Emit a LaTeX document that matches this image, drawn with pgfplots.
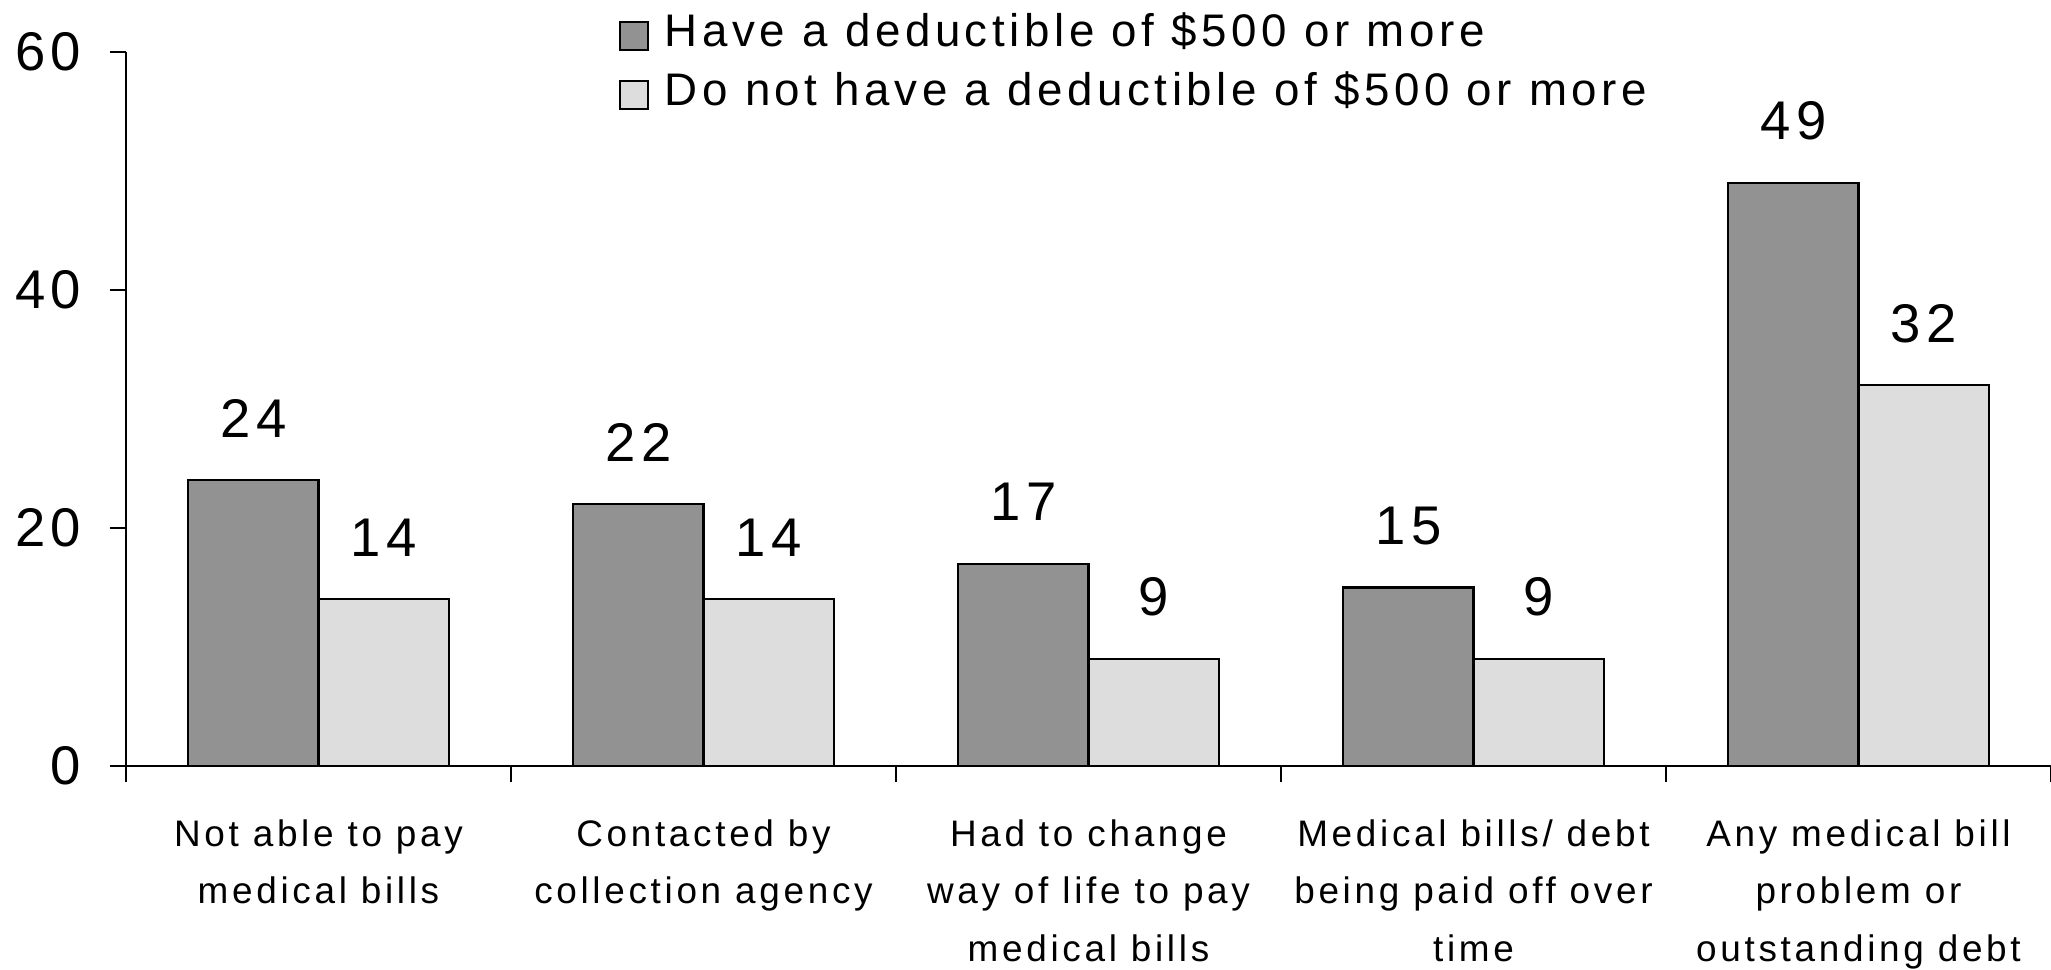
\documentclass[border=0pt]{standalone}
\usepackage{pgfplots}
\pgfplotsset{compat=1.18}
\usepackage{fontspec}
\setmainfont{Liberation Sans}[LetterSpace=10]
\definecolor{darkbar}{HTML}{929292}
\definecolor{lightbar}{HTML}{DDDDDD}
\begin{document}
\begin{tikzpicture}
\begin{axis}[
  at={(1.26cm,2.03cm)}, anchor=south west,
  scale only axis, width=19.25cm, height=7.14cm,
  ybar=0pt, bar width=0.338,
  xmin=-0.5, xmax=4.5, ymin=0, ymax=60,
  axis x line=bottom, axis y line=left,
  axis line style={-, line width=0.6pt, black},
  ytick={0,20,40,60},
  xtick={-0.5,0.5,...,4.5}, xticklabels={},
  tick align=outside, major tick length=0.16cm,
  tick style={line width=0.5pt, black},
  /pgf/number format/assume math mode=true,
  yticklabel style={font=\fontsize{15.5}{18}\selectfont, xshift=-0.165cm},
  extra x ticks={0,1,2,3,4},
  extra x tick labels={{Not able to pay\\medical bills},{Contacted by\\collection agency},{Had to change\\way of life to pay\\medical bills},{Medical bills/ debt\\being paid off over\\time},{Any medical bill\\problem or\\outstanding debt}},
  extra x tick style={major tick length=0pt, tick label style={align=center, font=\fontsize{10.5}{16.4}\selectfont, yshift=-0.41cm}},
  nodes near coords,
  every node near coord/.append style={font=\fontsize{15.5}{18}\selectfont, anchor=base, yshift=0.43cm, black},
  legend style={draw=none, fill=none, inner sep=0pt, at={(rel axis cs:0.2556,1)}, anchor=north west, yshift=0.36cm,
    font=\fontsize{13}{15}\selectfont, nodes={inner sep=0pt, text height=0.3cm, text depth=0.08cm}, row sep=0.21cm,
    /tikz/every odd column/.append style={column sep=0.16cm}},
  legend cell align=left,
  legend image code/.code={\draw[#1, line width=0.6pt] (0cm,-0.14cm) rectangle (0.28cm,0.14cm);},
]
\addplot[fill=darkbar, draw=black, line width=0.6pt] coordinates {(0,24) (1,22) (2,17) (3,15) (4,49)};
\addplot[fill=lightbar, draw=black, line width=0.6pt] coordinates {(0,14) (1,14) (2,9) (3,9) (4,32)};
\legend{Have a deductible of \$500 or more, Do not have a deductible of \$500 or more}
\end{axis}
\pgfresetboundingbox
\path[use as bounding box] (0,0) rectangle (20.51,9.69);
\end{tikzpicture}
\end{document}
